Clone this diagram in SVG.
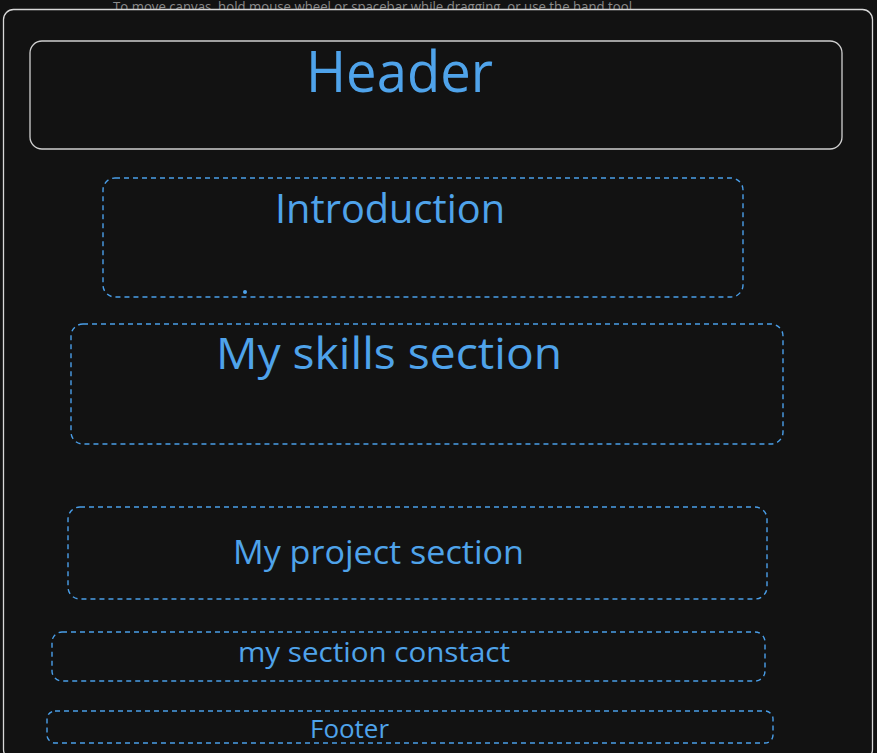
<svg xmlns="http://www.w3.org/2000/svg" width="877" height="753" viewBox="0 0 877 753">
  <style>
    .bg { fill: #121212; }
    .frame { fill: #121212; stroke: #d8d8d8; stroke-width: 1.3; }
    .header-box { fill: none; stroke: #d0d0d0; stroke-width: 1.3; }
    .section { fill: none; stroke: #4a9ee8; stroke-width: 1.4; stroke-dasharray: 5 4; }
    .label { fill: #4fa3ea; font-family: "Open Sans", "Noto Sans", "Liberation Sans", sans-serif; text-anchor: start; }
    .hint { fill: #8a8a8a; font-family: "Open Sans", "Liberation Sans", sans-serif; font-size: 14px; }
  </style>

  <rect class="bg" x="0" y="0" width="877" height="753"/>

  <!-- canvas hint, partly covered by the page frame -->
  <text class="hint" x="113" y="12" textLength="519" lengthAdjust="spacingAndGlyphs">To move canvas, hold mouse wheel or spacebar while dragging, or use the hand tool</text>

  <!-- page frame -->
  <rect class="frame" x="3.5" y="9.5" width="869" height="750" rx="10"/>

  <g id="header">
    <rect class="header-box" x="30" y="41" width="812" height="108" rx="12"/>
    <text class="label" x="306" y="92" font-size="56" textLength="187" lengthAdjust="spacingAndGlyphs">Header</text>
  </g>

  <g id="introduction">
    <rect class="section" x="103" y="178" width="640" height="119" rx="12"/>
    <text class="label" x="275" y="223" font-size="40" textLength="230" lengthAdjust="spacingAndGlyphs">Introduction</text>
    <circle cx="245" cy="292" r="2" fill="#4fa3ea"/>
  </g>

  <g id="skills">
    <rect class="section" x="71" y="324" width="712" height="120" rx="12"/>
    <text class="label" x="216" y="369" font-size="43" textLength="346" lengthAdjust="spacingAndGlyphs">My skills section</text>
  </g>

  <g id="projects">
    <rect class="section" x="68" y="507" width="699" height="92" rx="12"/>
    <text class="label" x="233" y="564" font-size="33" textLength="291" lengthAdjust="spacingAndGlyphs">My project section</text>
  </g>

  <g id="contact">
    <rect class="section" x="52" y="632" width="713" height="49" rx="10"/>
    <text class="label" x="238" y="662" font-size="28" textLength="272" lengthAdjust="spacingAndGlyphs">my section constact</text>
  </g>

  <g id="footer">
    <rect class="section" x="47" y="711" width="726" height="32" rx="8"/>
    <text class="label" x="310" y="738" font-size="25" textLength="79" lengthAdjust="spacingAndGlyphs">Footer</text>
  </g>

  <g id="connectors"/>
</svg>
